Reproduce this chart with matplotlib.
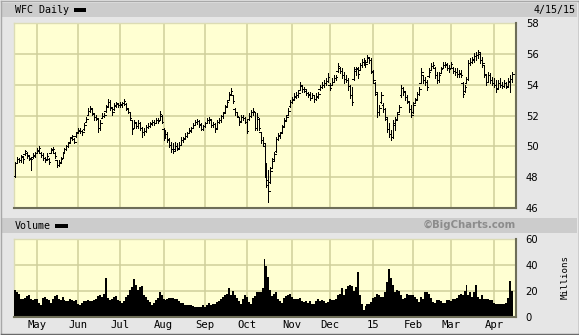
import numpy as np
import pandas as pd
import matplotlib
matplotlib.use("Agg")
import matplotlib.pyplot as plt
from matplotlib.patches import Rectangle
from matplotlib.lines import Line2D

# ---------------- data ----------------
holidays = ['2014-04-18', '2014-05-26', '2014-07-04', '2014-09-01', '2014-11-27',
            '2014-12-25', '2015-01-01', '2015-01-19', '2015-02-16', '2015-04-03']
start_date = '2014-04-15'
end_date = '2015-04-15'

month_labels = ['May', 'Jun', 'Jul', 'Aug', 'Sep', 'Oct', 'Nov', 'Dec', '15', 'Feb', 'Mar', 'Apr']
price_ticks = [46, 48, 50, 52, 54, 56, 58]
volume_ticks = [0, 20, 40, 60]

high = [
    49.01, 49.33, 49.22, 49.44, 49.33, 49.76, 49.65, 49.44, 49.33, 49.55, 49.65,
    49.87, 50.02, 49.65, 49.55, 49.33, 49.55, 49.22, 49.87, 49.98, 49.65, 49.11, 49.11, 49.33, 49.65, 49.87, 50.09, 50.30, 50.63, 50.74, 50.52, 50.95,
    51.17, 51.17, 51.06, 51.49, 51.92, 52.46, 52.62, 52.46, 52.14, 52.03, 51.82, 51.71, 52.14, 52.14, 52.68, 53.05, 53.01, 52.57, 52.79, 52.90, 52.83,
    52.90, 52.90, 53.05, 52.79, 52.46, 52.25, 51.71, 51.71, 51.60, 51.71, 51.60, 51.28, 51.17, 51.38, 51.49, 51.60, 51.71, 51.71, 51.82, 51.82, 52.30, 52.03,
    51.17, 51.06, 50.95, 50.52, 50.30, 50.19, 50.30, 50.19, 50.30, 50.63, 50.63, 50.84, 50.95, 51.17, 51.28, 51.49, 51.71, 51.75, 51.71, 51.49, 51.38,
    51.60, 51.82, 51.92, 51.71, 51.60, 51.49, 51.71, 51.82, 52.03, 52.25, 52.68, 53.01, 53.55, 53.76, 53.33, 52.46, 52.25, 51.92, 52.03, 52.03, 51.92,
    51.71, 52.14, 52.36, 52.46, 52.25, 52.14, 51.82, 50.95, 50.63, 50.19, 48.90, 48.46, 48.68, 49.22, 49.65, 50.63, 50.84, 50.95, 51.38, 51.82, 52.03, 52.46, 53.01,
    53.22, 53.44, 53.55, 53.65, 54.19, 53.98, 53.87, 53.65, 53.55, 53.55, 53.44, 53.33, 53.44, 53.55, 53.98, 54.19, 54.30, 54.41, 54.74,
    54.09, 54.41, 54.63, 54.63, 55.38, 55.17, 55.06, 54.84, 54.63, 54.41, 53.98, 53.87, 55.17, 55.17, 55.17, 55.38, 55.64, 55.71, 55.60, 55.92, 55.82, 55.71,
    54.95, 54.19, 53.55, 52.68, 53.55, 52.79, 52.46, 51.92, 51.49, 51.06, 51.71, 51.92, 52.25, 52.68, 53.98, 53.87, 53.55, 53.33, 52.90, 52.68,
    52.90, 53.11, 53.55, 53.87, 55.06, 54.63, 54.52, 54.30, 55.06, 55.38, 55.49, 55.17, 54.84, 54.84, 55.17, 55.49, 55.49, 55.38, 55.28,
    55.49, 55.17, 55.06, 55.06, 54.95, 54.95, 54.19, 53.98, 54.52, 55.60, 55.71, 55.82, 56.03, 56.14, 56.25, 56.14, 55.82, 55.28, 54.63, 54.84, 54.74, 54.52,
    54.41, 54.30, 54.30, 54.41, 54.19, 54.30, 54.19, 54.41, 54.63, 54.84,
]

low = [
    48.03, 48.90, 49.01, 49.01, 48.90, 49.44, 49.22, 49.11, 48.46, 49.22, 49.33,
    49.55, 49.65, 49.33, 49.11, 49.01, 49.11, 48.85, 49.55, 49.65, 49.22, 48.68, 48.72, 48.90, 49.22, 49.55, 49.76, 49.98, 50.30, 50.41, 50.19, 50.63,
    50.84, 50.84, 50.74, 51.06, 51.60, 52.03, 52.25, 52.03, 51.71, 51.71, 50.95, 51.06, 51.82, 51.92, 52.25, 52.57, 52.36, 52.03, 52.36, 52.57, 52.53,
    52.57, 52.57, 52.68, 52.36, 52.14, 51.71, 50.78, 51.17, 51.17, 51.17, 51.06, 50.63, 50.74, 50.95, 51.17, 51.28, 51.38, 51.38, 51.49, 51.49, 51.71, 51.49,
    50.41, 50.52, 50.30, 49.98, 49.65, 49.55, 49.76, 49.76, 49.87, 50.09, 50.30, 50.52, 50.63, 50.84, 50.95, 51.17, 51.38, 51.45, 51.28, 51.06, 51.06,
    51.28, 51.49, 51.49, 51.28, 51.28, 50.95, 51.28, 51.49, 51.60, 51.82, 52.25, 52.57, 53.01, 53.33, 52.79, 52.03, 51.92, 51.38, 51.60, 51.71, 51.49,
    50.84, 51.71, 51.92, 52.03, 51.06, 51.06, 51.06, 50.19, 50.09, 48.03, 47.38, 46.41, 47.60, 48.57, 49.11, 49.65, 50.41, 50.52, 50.95, 51.28, 51.71, 52.03, 52.57,
    52.79, 53.01, 53.11, 53.22, 53.65, 53.55, 53.55, 53.33, 53.22, 53.01, 53.11, 52.90, 53.01, 53.11, 53.65, 53.76, 53.87, 53.98, 54.19,
    53.65, 53.98, 54.19, 54.30, 54.84, 54.74, 54.41, 54.09, 54.19, 53.65, 53.11, 52.68, 54.30, 54.63, 54.41, 54.95, 55.17, 55.28, 55.17, 55.49, 55.38, 54.74,
    54.09, 53.33, 51.92, 52.03, 52.79, 52.25, 51.71, 50.95, 50.63, 50.41, 50.52, 51.06, 51.71, 52.25, 53.22, 53.33, 53.01, 52.79, 52.25, 51.88,
    52.14, 52.79, 53.01, 53.33, 54.09, 54.09, 53.98, 53.65, 54.52, 54.95, 55.06, 54.41, 54.09, 54.19, 54.74, 55.06, 55.17, 54.95, 54.84,
    55.06, 54.74, 54.63, 54.52, 54.52, 54.52, 53.22, 53.55, 54.09, 54.30, 55.28, 55.38, 55.49, 55.60, 55.71, 55.38, 55.17, 54.52, 53.98, 54.19, 54.09, 53.98,
    53.87, 53.55, 53.76, 53.87, 53.76, 53.87, 53.76, 53.98, 53.55, 54.19,
]

open_ = [
    48.1, 48.95, 49.15, 49.1, 49.3, 49.5, 49.6, 49.4, 49.2, 49.3, 49.4,
    49.6, 49.7, 49.6, 49.45, 49.25, 49.15, 49.2, 49.6, 49.75, 49.6, 49.1, 48.8, 49.0, 49.25, 49.6, 49.8, 50.0, 50.3, 50.6, 50.5, 50.65,
    50.9, 51.0, 51.0, 51.1, 51.6, 52.05, 52.3, 52.4, 52.1, 51.9, 51.8, 51.2, 51.85, 52.0, 52.3, 52.6, 52.9, 52.5, 52.4, 52.6, 52.75,
    52.7, 52.7, 52.8, 52.75, 52.45, 52.2, 51.7, 51.2, 51.5, 51.3, 51.5, 51.2, 50.9, 51.0, 51.25, 51.35, 51.45, 51.6, 51.5, 51.7, 51.7, 52.0,
    51.1, 50.6, 50.8, 50.4, 50.1, 49.8, 49.8, 50.0, 49.9, 50.1, 50.4, 50.55, 50.7, 50.85, 51.0, 51.2, 51.4, 51.6, 51.65, 51.4, 51.15,
    51.3, 51.5, 51.7, 51.7, 51.4, 51.45, 51.2, 51.55, 51.7, 51.95, 52.25, 52.6, 53.0, 53.4, 53.3, 52.4, 52.2, 51.9, 51.65, 51.9, 51.85,
    51.6, 51.75, 52.0, 52.25, 52.2, 51.2, 51.8, 50.9, 50.4, 50.0, 48.3, 47.5, 47.7, 48.6, 49.2, 49.7, 50.5, 50.7, 50.95, 51.3, 51.7, 52.05, 52.6,
    52.85, 53.05, 53.2, 53.3, 53.65, 53.9, 53.75, 53.6, 53.45, 53.4, 53.15, 53.3, 53.05, 53.2, 53.7, 53.85, 54.0, 54.1, 54.25,
    54.0, 53.95, 54.2, 54.45, 54.9, 55.1, 54.9, 54.6, 54.35, 54.3, 53.9, 53.3, 54.4, 54.9, 55.0, 54.95, 55.3, 55.5, 55.55, 55.5, 55.75, 55.6,
    54.9, 54.1, 53.4, 52.2, 52.9, 52.7, 52.4, 51.8, 51.1, 50.8, 50.6, 51.4, 51.8, 52.2, 53.3, 53.8, 53.5, 53.2, 52.9, 52.4,
    52.2, 52.8, 53.05, 53.4, 54.1, 54.6, 54.3, 54.2, 54.55, 54.95, 55.2, 55.1, 54.6, 54.3, 54.75, 55.1, 55.3, 55.3, 55.1,
    55.1, 55.1, 54.9, 54.8, 54.7, 54.7, 54.1, 53.6, 54.1, 54.4, 55.4, 55.5, 55.6, 55.85, 55.9, 56.0, 55.6, 55.3, 54.6, 54.2, 54.6, 54.3,
    54.1, 54.0, 53.8, 54.1, 54.0, 53.9, 54.1, 53.9, 54.2, 54.4,
]

close = [
    48.9, 49.2, 49.1, 49.35, 49.2, 49.7, 49.45, 49.25, 49.2, 49.45, 49.55,
    49.75, 49.9, 49.45, 49.25, 49.1, 49.4, 49.0, 49.8, 49.85, 49.35, 48.8, 48.95, 49.2, 49.55, 49.8, 50.0, 50.2, 50.55, 50.65, 50.3, 50.85,
    51.05, 51.0, 50.9, 51.4, 51.8, 52.3, 52.5, 52.15, 51.9, 51.85, 51.2, 51.5, 52.0, 52.05, 52.55, 52.9, 52.55, 52.2, 52.65, 52.8, 52.7,
    52.75, 52.8, 52.95, 52.5, 52.25, 51.85, 51.1, 51.55, 51.35, 51.5, 51.2, 50.9, 51.0, 51.25, 51.35, 51.5, 51.6, 51.5, 51.7, 51.65, 52.1, 51.6,
    50.6, 50.8, 50.45, 50.1, 49.8, 49.7, 50.0, 49.85, 50.1, 50.4, 50.5, 50.7, 50.85, 51.05, 51.2, 51.4, 51.6, 51.65, 51.45, 51.15, 51.3,
    51.5, 51.7, 51.8, 51.4, 51.45, 51.1, 51.55, 51.7, 51.95, 52.15, 52.55, 52.9, 53.3, 53.6, 52.95, 52.2, 52.0, 51.55, 51.9, 51.85, 51.6,
    51.0, 52.0, 52.25, 52.3, 51.2, 51.9, 51.2, 50.4, 50.2, 48.3, 47.8, 47.1, 48.4, 49.05, 49.5, 50.5, 50.75, 50.85, 51.25, 51.65, 51.9, 52.3, 52.85,
    53.0, 53.25, 53.35, 53.45, 54.0, 53.75, 53.7, 53.45, 53.35, 53.15, 53.3, 53.05, 53.25, 53.4, 53.85, 54.0, 54.1, 54.25, 54.5,
    53.8, 54.2, 54.45, 54.5, 55.2, 54.9, 54.6, 54.35, 54.3, 53.9, 53.3, 52.9, 55.0, 55.05, 54.7, 55.3, 55.5, 55.6, 55.35, 55.8, 55.6, 54.8,
    54.3, 53.5, 52.2, 52.5, 53.3, 52.4, 51.9, 51.15, 50.8, 50.6, 51.5, 51.7, 52.1, 52.55, 53.8, 53.6, 53.2, 52.95, 52.4, 52.05,
    52.7, 53.0, 53.4, 53.7, 54.8, 54.3, 54.2, 53.85, 54.85, 55.2, 55.3, 54.6, 54.3, 54.65, 55.0, 55.3, 55.35, 55.1, 55.0,
    55.35, 54.9, 54.8, 54.7, 54.75, 54.6, 53.4, 53.85, 54.35, 55.4, 55.5, 55.65, 55.85, 55.9, 56.1, 55.6, 55.4, 54.7, 54.15, 54.6, 54.3, 54.1,
    54.0, 53.75, 54.1, 54.0, 53.9, 54.1, 53.85, 54.25, 54.4, 54.7,
]

volume = [  # millions of shares
    20.7, 19.4, 18, 14, 14, 15, 16, 17, 14, 13, 14,
    14, 11, 9.5, 15, 15.5, 14, 13, 11, 14, 16, 17, 14, 13, 15.5, 13, 12, 12.5, 14, 13, 12, 13,
    10, 9.5, 11, 12, 12, 13, 12.5, 12, 13, 14, 16, 17, 15.5, 18, 30, 15, 13, 14, 15.5, 16, 13,
    12, 11, 12, 15.5, 17, 20.7, 23, 29, 24.5, 20.7, 23, 24, 17, 15.5, 13, 11.6, 9.5, 11, 13, 15, 19, 17,
    14, 13, 14, 15, 15, 15, 14, 14, 12, 11, 11, 9, 9.5, 9, 9.5, 8.5, 7.8, 7.5, 7.8, 8, 9.5,
    7.8, 9, 11, 9, 10.3, 10.3, 11.6, 12.5, 14, 15.5, 17, 18, 22, 17, 20, 17, 15, 12, 10.3, 14, 17,
    15.5, 11.6, 10.3, 15, 16, 19, 19.4, 19.4, 22, 45, 39, 31, 21, 16, 18, 19, 14, 12, 11, 15, 16, 17, 18,
    15.5, 14, 14, 14, 15, 12, 11.6, 12, 11, 12, 10.3, 10.3, 12, 14, 12, 13, 12, 11, 11.6,
    14, 13, 13, 14, 17, 18, 22, 17, 21.5, 24, 24.5, 24, 20, 23, 35, 17, 10.3, 5.2, 8.5, 10.3, 10.3, 11.6,
    15, 15.5, 18, 17, 15.5, 15.5, 19, 27, 37, 30, 24.5, 19, 20.7, 20, 17, 14, 15, 18, 17, 17,
    17, 15.5, 14, 11.6, 15.5, 14, 19, 19, 18, 15, 11.6, 11, 13, 13, 12, 11, 11, 13, 13,
    12.5, 14, 14, 15, 17, 18, 17, 20, 25, 17, 19.4, 15.5, 19, 25, 15.5, 14, 17, 14, 14, 14, 13, 13,
    11, 10.3, 10.3, 10, 10, 10.3, 11, 15, 28, 20,
]

# ---------------- trading calendar ----------------
dates = pd.bdate_range(start_date, end_date)
dates = dates[~dates.isin(pd.to_datetime(holidays))]
n = len(dates)
idx = np.arange(n)
assert n == len(high) == len(low) == len(open_) == len(close) == len(volume)

months = dates.to_period('M')
month_start_idx = [i for i in range(1, n) if months[i] != months[i - 1]]

# ---------------- figure layout (pixel helpers) ----------------
W, H = 579, 335
fig = plt.figure(figsize=(W / 100, H / 100), dpi=100)
fig.patch.set_facecolor('#e6e6e6')


def fx(px):
    return px / W


def fy(py):
    return 1 - py / H


def band(y0, y1, color):
    fig.add_artist(Rectangle((fx(2), fy(y1)), fx(575), (y1 - y0) / H,
                             transform=fig.transFigure, facecolor=color,
                             edgecolor='none', zorder=0))


band(3, 17, '#cccccc')
band(218, 233, '#cccccc')

# outer frame
for (x0, y0, x1, y1, c) in [(0.5, 0.5, 0.5, 334, '#a8a8a8'), (0.5, 0.5, 578.5, 0.5, '#a8a8a8'),
                            (578.5, 0.5, 578.5, 334.5, '#6a6a6a'), (0.5, 333.5, 578.5, 333.5, '#6a6a6a')]:
    fig.add_artist(Line2D([fx(x0), fx(x1)], [fy(y0), fy(y1)], transform=fig.transFigure,
                          color=c, lw=1.0, zorder=5))

PLOT_BG = '#ffffd2'
GRID = '#cfcf9a'
mono = 'DejaVu Sans Mono'

ax1 = fig.add_axes([fx(14), fy(208), fx(502), 185 / H])
ax2 = fig.add_axes([fx(14), fy(317), fx(502), 78 / H])

for ax in (ax1, ax2):
    ax.set_facecolor(PLOT_BG)
    ax.set_xlim(-0.5, 253.0)
    ax.set_xticks(month_start_idx)
    ax.grid(True, color=GRID, lw=1.1, zorder=0)
    ax.set_axisbelow(True)
    ax.yaxis.tick_right()
    ax.tick_params(axis='both', length=0)
    ax.tick_params(axis='y', pad=7, labelsize=7.2)
    for s in ('top', 'left'):
        ax.spines[s].set_color('#dcdcb4')
        ax.spines[s].set_linewidth(1.0)
    for s in ('bottom', 'right'):
        ax.spines[s].set_color('#6e6e58')
        ax.spines[s].set_linewidth(1.5)
        ax.spines[s].set_zorder(6)

# price OHLC bars (1 px lines, short ticks)
LW = 0.72
TICK = 0.8
ax1.vlines(idx, low, high, color='black', lw=LW, antialiased=False, zorder=3)
ax1.hlines(open_, idx - TICK, idx, color='black', lw=LW, antialiased=False, zorder=3)
ax1.hlines(close, idx, idx + TICK, color='black', lw=LW, antialiased=False, zorder=3)
ax1.set_ylim(price_ticks[0], price_ticks[-1])
ax1.set_yticks(price_ticks)
ax1.set_yticklabels([str(t) for t in price_ticks])
ax1.set_xticklabels([])

# volume
ax2.bar(idx, volume, width=1.0, color='black', linewidth=0, zorder=3)
ax2.set_ylim(volume_ticks[0], volume_ticks[-1])
ax2.set_yticks(volume_ticks)
ax2.set_yticklabels([str(t) for t in volume_ticks])
ax2.set_xticklabels(month_labels, family=mono, fontsize=7.6)
ax2.tick_params(axis='x', pad=2.5)

# texts
fig.text(fx(15), fy(10), 'WFC Daily', family=mono, fontsize=7.2, va='center', ha='left')
fig.add_artist(Rectangle((fx(74), fy(11.5)), fx(11.5), 3.5 / H, transform=fig.transFigure,
                         facecolor='black', edgecolor='none', zorder=3))
fig.text(fx(576), fy(9.5), '4/15/15', family=mono, fontsize=7.2, va='center', ha='right')
fig.text(fx(15), fy(226), 'Volume', family=mono, fontsize=7.2, va='center', ha='left')
fig.add_artist(Rectangle((fx(55.5), fy(227.5)), fx(12), 3.5 / H, transform=fig.transFigure,
                         facecolor='black', edgecolor='none', zorder=3))
fig.text(fx(516), fy(225), '\u00a9BigCharts.com', fontsize=7.3, fontweight='bold',
         color='#8c8c8c', va='center', ha='right')
fig.text(fx(565), fy(277), 'Millions', family=mono, fontsize=6.6, rotation=90,
         va='center', ha='center')

fig.savefig('out.png', dpi=100, facecolor=fig.get_facecolor())
